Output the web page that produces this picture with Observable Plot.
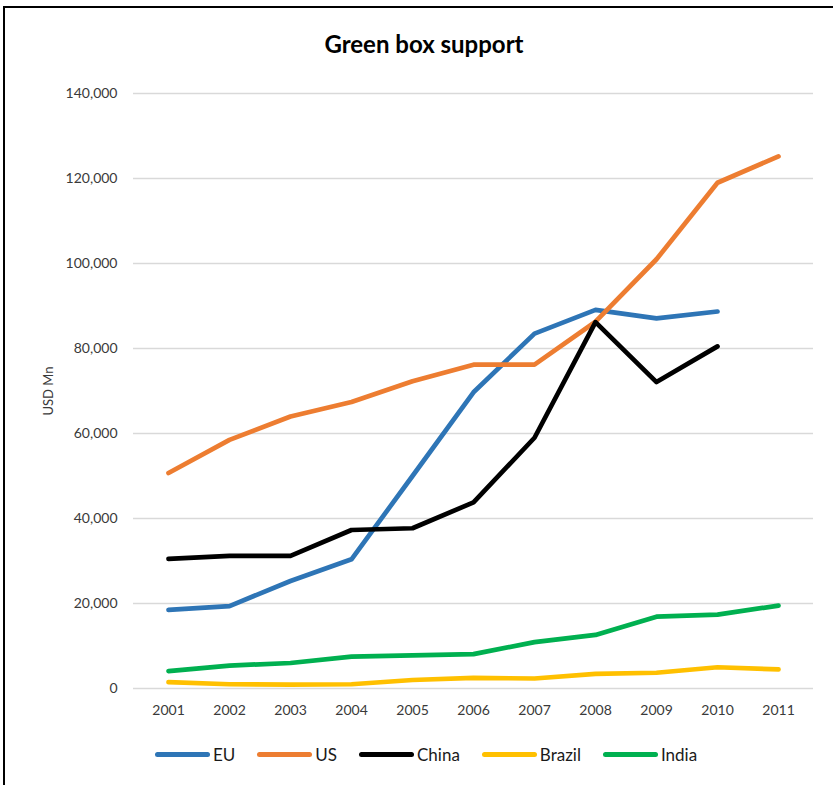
<!DOCTYPE html>
<html>
<head>
<meta charset="utf-8">
<script src="https://cdn.jsdelivr.net/npm/d3@7"></script>
<script src="https://cdn.jsdelivr.net/npm/@observablehq/plot@0.6"></script>
<style>
  html, body { margin: 0; padding: 0; background: #fff; }
  #wrap { position: relative; width: 833px; height: 785px; overflow: hidden; font-family: Lato, "Open Sans", sans-serif; }
  #frame { position: absolute; left: 3px; top: 6px; width: 840px; height: 800px; border-left: 2px solid #000; border-top: 2px solid #000; box-sizing: border-box; }
  #title { position: absolute; left: 0; width: 848px; top: 32px; text-align: center; font: bold 24px/24px Lato, sans-serif; color: #000; }
  #chart { position: absolute; left: 0; top: 0; }
  #chart svg text { font-family: Lato, sans-serif; }
  g[aria-label="y-axis tick label"] text, g[aria-label="x-axis tick label"] text { font-size: 14px; fill: #3a3a3a; }
  g[aria-label="y-axis label"] text { font-size: 13px; fill: #3a3a3a; }
  #legend { position: absolute; left: 0; width: 852px; top: 746px; height: 17px; display: flex; justify-content: center; align-items: center; gap: 22px; font: 17px/17px Lato, sans-serif; color: #1a1a1a; }
  .item { display: flex; align-items: center; }
  .sw { width: 55px; height: 5px; border-radius: 3px; margin-right: 3px; }
</style>
</head>
<body>
<div id="wrap">
  <div id="frame"></div>
  <div id="chart"></div>
  <div id="title">Green box support</div>
  <div id="legend"></div>
</div>
<script>
const years = [2001, 2002, 2003, 2004, 2005, 2006, 2007, 2008, 2009, 2010, 2011];
const seriesNames = ["EU", "US", "China", "Brazil", "India"];
const seriesColors = ["#2E75B6", "#ED7D31", "#000000", "#FFC000", "#00B050"];
const EU     = [18500, 19400, 25300, 30400, 50000, 69700, 83500, 89100, 87100, 88700, null];
const US     = [50700, 58500, 64000, 67400, 72300, 76200, 76200, 86300, 101000, 119000, 125200];
const China  = [30500, 31200, 31200, 37300, 37700, 43800, 59000, 86200, 72100, 80500, null];
const Brazil = [1500, 1000, 900, 1000, 2000, 2500, 2350, 3450, 3700, 5000, 4500];
const India  = [4100, 5400, 6000, 7500, 7800, 8100, 10900, 12600, 16900, 17400, 19500];
const yTicks = [0, 20000, 40000, 60000, 80000, 100000, 120000, 140000];
const yLabel = "USD Mn";

const valuesBySeries = [EU, US, China, Brazil, India];
const rows = [];
seriesNames.forEach((s, i) => {
  valuesBySeries[i].forEach((v, j) => {
    if (v != null) rows.push({series: s, year: String(years[j]), value: v});
  });
});

const fmt = d3.format(",");
const lineMarks = seriesNames.map((s, i) =>
  Plot.line(rows.filter(r => r.series === s), {
    x: "year", y: "value", stroke: seriesColors[i],
    strokeWidth: 4.7, strokeLinecap: "round", strokeLinejoin: "round"
  })
);

const chart = Plot.plot({
  width: 833,
  height: 785,
  marginTop: 93,
  marginBottom: 97,
  marginLeft: 133,
  marginRight: 20,
  x: { type: "point", domain: years.map(String), padding: 0.5 },
  y: { domain: [0, 140000] },
  marks: [
    Plot.gridY(yTicks, { stroke: "#d9d9d9", strokeOpacity: 1, strokeWidth: 1.5 }),
    Plot.axisY(yTicks, { tickSize: 0, tickPadding: 16, tickFormat: fmt, label: yLabel, labelAnchor: "center", labelArrow: "none", labelOffset: 90 }),
    Plot.axisX({ tickSize: 0, tickPadding: 17, label: null }),
    ...lineMarks
  ]
});
document.getElementById("chart").appendChild(chart);

const legend = document.getElementById("legend");
seriesNames.forEach((s, i) => {
  const item = document.createElement("div");
  item.className = "item";
  const sw = document.createElement("div");
  sw.className = "sw";
  sw.style.background = seriesColors[i];
  const t = document.createElement("span");
  t.textContent = s;
  item.appendChild(sw);
  item.appendChild(t);
  legend.appendChild(item);
});
</script>
</body>
</html>
